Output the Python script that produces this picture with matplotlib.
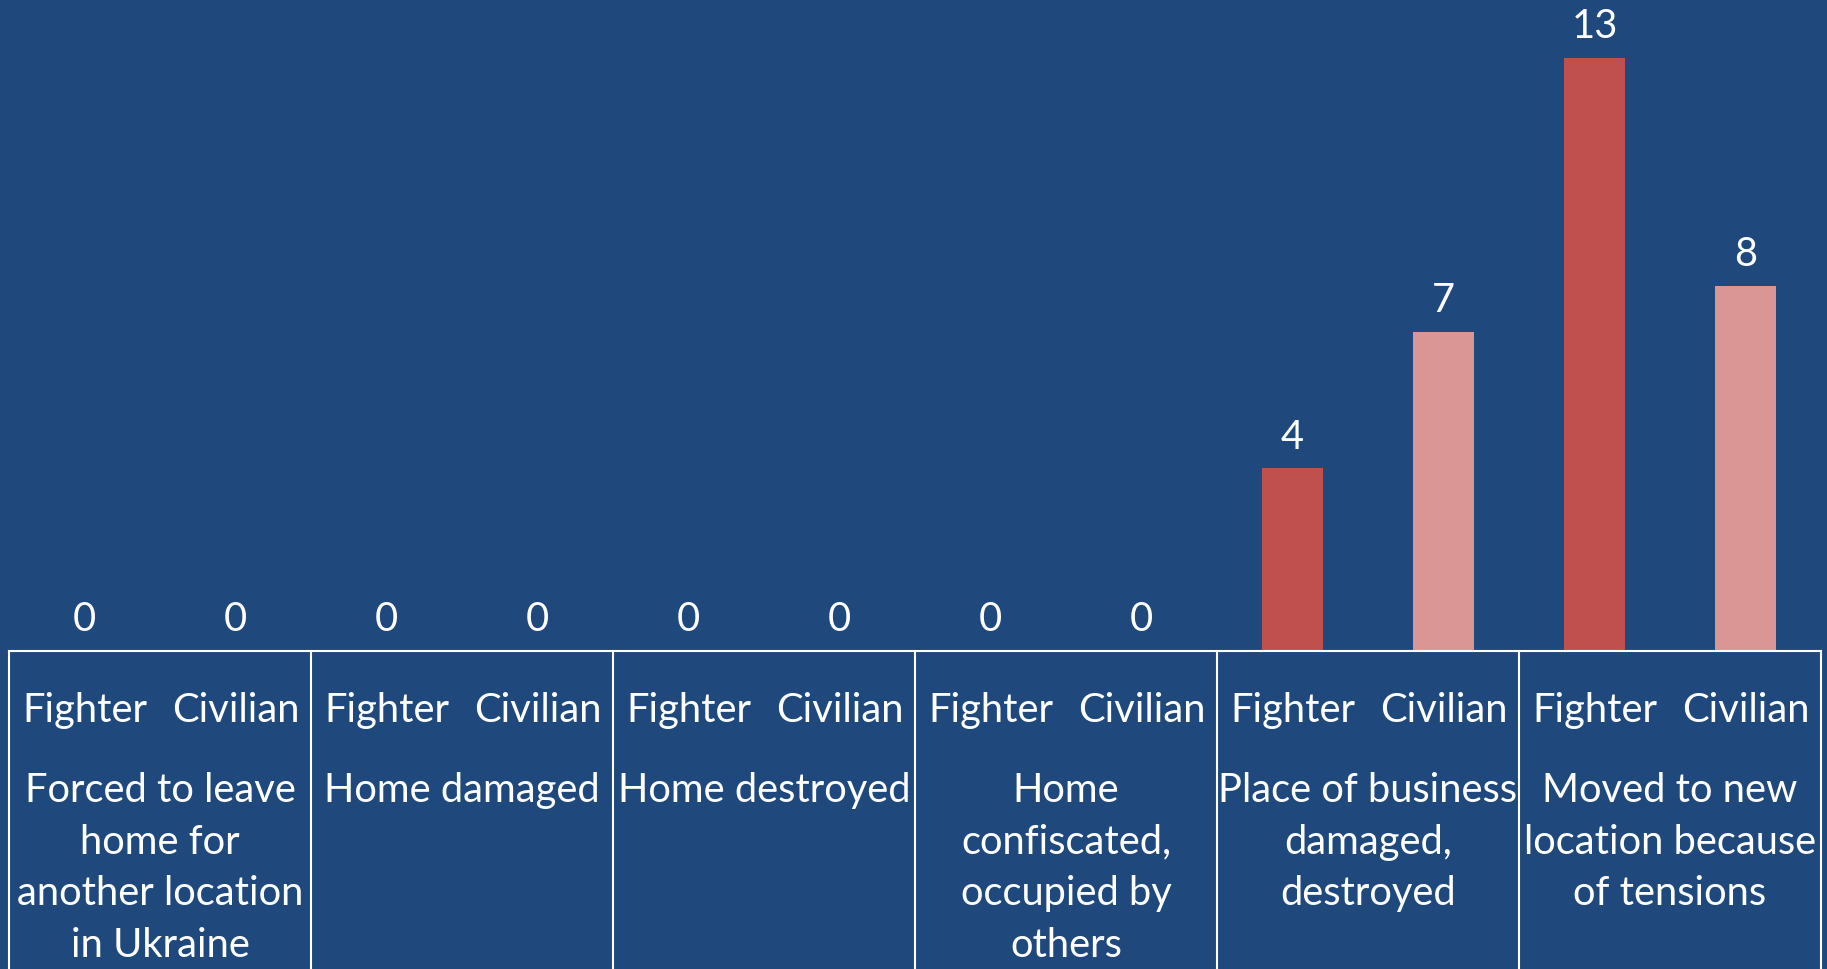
import matplotlib
matplotlib.use("Agg")
import matplotlib.pyplot as plt
import matplotlib.transforms as mtransforms
from matplotlib.lines import Line2D

# ---- data ----
groups = [
    "Forced to leave\nhome for\nanother location\nin Ukraine",
    "Home damaged",
    "Home destroyed",
    "Home\nconfiscated,\noccupied by\nothers",
    "Place of business\ndamaged,\ndestroyed",
    "Moved to new\nlocation because\nof tensions",
]
sub_labels = ["Fighter", "Civilian"]
fighter = [0, 0, 0, 0, 4, 13]
civilian = [0, 0, 0, 0, 7, 8]

BG = "#1F497D"
C_F = "#C0504D"
C_C = "#D99694"

plt.rcParams['font.family'] = ['Lato', 'DejaVu Sans']

W, H = 1827, 970
fig = plt.figure(figsize=(W / 100, H / 100), dpi=100, facecolor=BG)
left = 9 / W
right = 1821 / W
base = 652 / H
ax = fig.add_axes([left, 1 - base, right - left, base])
ax.set_facecolor(BG)

n = len(groups)
xs_f = [2 * i for i in range(n)]
xs_c = [2 * i + 1 for i in range(n)]
ax.bar(xs_f, fighter, width=0.4, color=C_F)
ax.bar(xs_c, civilian, width=0.4, color=C_C)

FS = 28.7
for x, v in zip(xs_f + xs_c, fighter + civilian):
    ax.annotate(str(v), (x, v), xytext=(0, 10), textcoords="offset points",
                ha="center", va="bottom", color="white", fontsize=FS)

ax.set_xlim(-0.5, 2 * n - 0.5)
ax.set_ylim(0, 14.29)
for s in ax.spines.values():
    s.set_visible(False)
ax.set_xticks([])
ax.set_yticks([])

# data table below the axis
trans = mtransforms.blended_transform_factory(ax.transData, ax.transAxes)
ax.add_line(Line2D([-0.5, 2 * n - 0.5], [0, 0], transform=trans, color="white",
                   lw=1.5, clip_on=False))
for i in range(n + 1):
    ax.add_line(Line2D([2 * i - 0.5, 2 * i - 0.5], [0, -1], transform=trans,
                       color="white", lw=1.5, clip_on=False))

for i, g in enumerate(groups):
    for j, s in enumerate(sub_labels):
        ax.text(2 * i + j, -0.089, s, transform=trans, ha="center", va="center",
                color="white", fontsize=FS, clip_on=False)
    ax.text(2 * i + 0.5, -0.184, g, transform=trans, ha="center", va="top",
            color="white", fontsize=FS, linespacing=1.49, clip_on=False)

fig.savefig("out.png", dpi=100, facecolor=BG)
